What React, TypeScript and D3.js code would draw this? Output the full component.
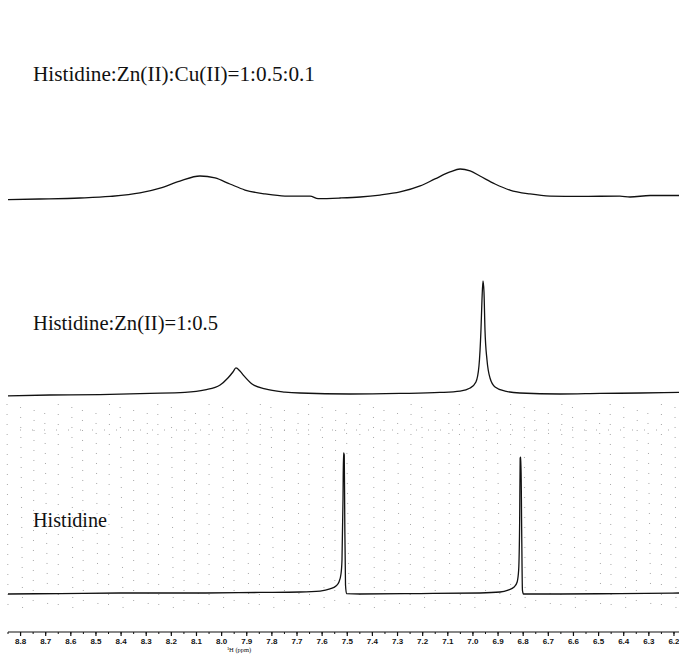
import * as d3 from 'd3';
import React from 'react';

// spectra: [chemical shift (ppm), intensity]
const cuTrace: [number, number][] = [
  [8.85, -1.1], [8.723, -0.7], [8.563, 0], [8.444, 1.1], [8.325, 3.6], [8.245, 7.1],
  [8.166, 12.1], [8.086, 15.7], [8.026, 14.3], [7.967, 10], [7.907, 5.7], [7.827, 2.9],
  [7.748, 1.4], [7.648, 1.4], [7.616, -0.4], [7.529, 0], [7.449, 0.7], [7.37, 2.1],
  [7.29, 4.3], [7.21, 8.6], [7.151, 13.6], [7.091, 18.6], [7.051, 20.7], [7.011, 19.3],
  [6.972, 15.7], [6.912, 10], [6.853, 5.7], [6.773, 2.9], [6.693, 1.4], [6.574, 1.1],
  [6.415, 1.4], [6.375, 0.7], [6.295, 1.8], [6.18, 1.8],
];

const znTrace: [number, number][] = [
  [8.85, -1.4], [8.683, -0.7], [8.484, -0.4], [8.285, 0.4], [8.146, 1.1], [8.066, 2.9],
  [8.006, 6.4], [7.975, 11.4], [7.955, 15.7], [7.943, 18.6], [7.927, 16.4], [7.911, 12.9],
  [7.879, 7.1], [7.827, 3.6], [7.748, 1.4], [7.688, 0.7], [7.489, 0], [7.29, 0.4],
  [7.131, 1.1], [7.051, 2.1], [7.011, 4.3], [6.988, 8.6], [6.976, 20], [6.968, 45.7],
  [6.964, 67.1], [6.96, 80.7], [6.956, 72.9], [6.952, 45.7], [6.944, 24.3], [6.932, 11.4],
  [6.912, 5], [6.872, 2.1], [6.813, 0.7], [6.653, 0], [6.494, 0.4], [6.335, 0.7], [6.18, 1.1],
];

const hisTrace: [number, number][] = [
  [8.85, -0.7], [8.643, -0.4], [8.404, 0], [8.086, 0], [7.847, 0.4], [7.688, 0.7],
  [7.608, 1.4], [7.569, 2.9], [7.545, 5], [7.533, 7.9], [7.525, 13.6], [7.521, 23.6],
  [7.517, 66.4], [7.515, 100], [7.512, 98.6], [7.51, 52.1], [7.507, 5.7], [7.503, -0.4],
  [7.449, -0.7], [7.21, -0.4], [6.972, 0], [6.892, 0.7], [6.86, 2.1], [6.836, 4.3],
  [6.824, 7.9], [6.818, 16.4], [6.814, 52.1], [6.812, 96.4], [6.809, 97.1], [6.806, 45],
  [6.803, 2.1], [6.799, -0.7], [6.653, -0.7], [6.415, -0.4], [6.18, 0],
];

const traceLabels = ['Histidine:Zn(II):Cu(II)=1:0.5:0.1', 'Histidine:Zn(II)=1:0.5', 'Histidine'];

const tickLabels = [
  '8.8', '8.7', '8.6', '8.5', '8.4', '8.3', '8.2', '8.1', '8.0', '7.9', '7.8', '7.7', '7.6',
  '7.5', '7.4', '7.3', '7.2', '7.1', '7.0', '6.9', '6.8', '6.7', '6.6', '6.5', '6.4', '6.3', '6.2',
];

const W = 679;
const H = 654;
const serif = '"Liberation Serif", Tinos, "Times New Roman", Times, "DejaVu Serif", "Noto Serif", serif';

export default function App() {
  const x = d3.scaleLinear().domain([8.85, 6.18]).range([8, 679]);
  const y = d3.scaleLinear().domain([0, 100]).range([0, -140]);

  const line = d3.line<[number, number]>()
    .x(d => x(d[0]))
    .y(d => y(d[1]))
    .curve(d3.curveMonotoneX);

  // baseline of each trace and where its caption sits
  const panels = [
    { data: cuTrace, base: 198, labelY: 81, len: 282 },
    { data: znTrace, base: 394, labelY: 330, len: 185 },
    { data: hisTrace, base: 593, labelY: 527, len: 74 },
  ];

  const majors = tickLabels.map(Number);
  const minors = d3.range(8.85, 6.15, -0.05).map(v => +v.toFixed(2));

  const axisY = 632;

  return (
    <svg width={W} height={H} style={{ position: 'absolute', left: 0, top: 0, background: '#fff' }}>
      {/* dotted grid left over on the scan behind the bottom spectrum */}
      <g stroke="#a8a8a8" strokeWidth={1} strokeDasharray="1 9">
        {minors.map((v, i) => (
          <line key={i} x1={x(v) + (i % 3) - 1} x2={x(v) + (i % 2) * 2} y1={404 + (i % 4) * 3} y2={608} />
        ))}
        {[430].map((yy, i) => (
          <line key={'h' + i} x1={20} x2={672} y1={yy} y2={yy} strokeDasharray="1 11" />
        ))}
      </g>

      {panels.map((p, i) => (
        <g key={i}>
          <path d={line(p.data) ?? ''} transform={`translate(0,${p.base})`}
            fill="none" stroke="#111" strokeWidth={1.3} strokeLinejoin="round" />
          <text x={33} y={p.labelY} fontFamily={serif} fontSize={20} fill="#111"
            textLength={p.len} lengthAdjust="spacingAndGlyphs">{traceLabels[i]}</text>
        </g>
      ))}

      {/* ppm axis */}
      <g>
        <line x1={8} x2={679} y1={axisY} y2={axisY} stroke="#111" strokeWidth={1.2} />
        {minors.map((v, i) => (
          <line key={'m' + i} x1={x(v)} x2={x(v)} y1={axisY} y2={axisY + 2} stroke="#111" strokeWidth={1} />
        ))}
        {majors.map((v, i) => (
          <g key={'t' + i} transform={`translate(${x(v)},0)`}>
            <line y1={axisY} y2={axisY + 4} stroke="#111" strokeWidth={1.2} />
            <text y={axisY + 12} textAnchor="middle" fontFamily='"Liberation Sans", Arial, sans-serif'
              fontWeight="bold" fontSize={8} fill="#111">{tickLabels[i]}</text>
          </g>
        ))}
        <text x={x(7.93)} y={axisY + 20} textAnchor="middle" fontFamily={serif}
          fontSize={6.5} fill="#111">¹H (ppm)</text>
      </g>
    </svg>
  );
}
